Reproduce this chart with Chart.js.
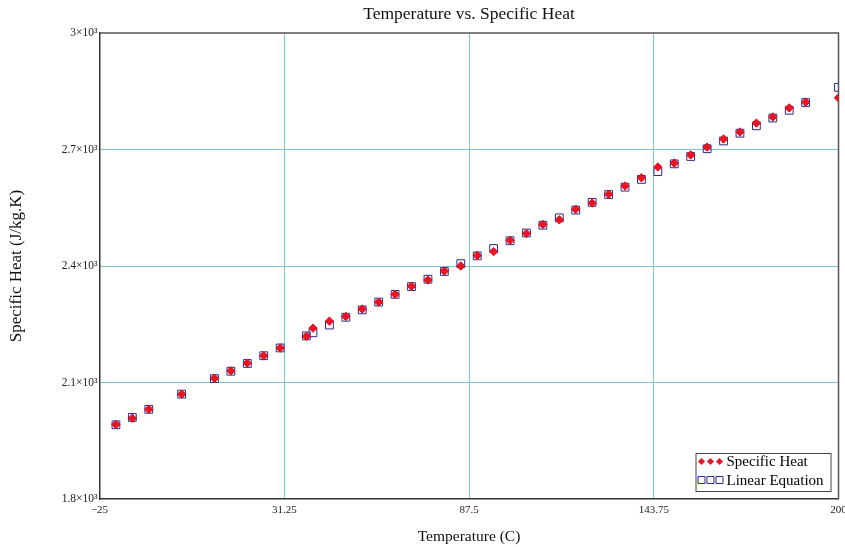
<!DOCTYPE html>
<html>
<head>
<meta charset="utf-8">
<script src="https://cdn.jsdelivr.net/npm/chart.js@4.4.1/dist/chart.umd.min.js"></script>
<style>
  body { margin: 0; background: #fff; overflow: hidden; }
</style>
</head>
<body>
<canvas id="myChart" width="845" height="547"></canvas>
<script>
// temperature (C)
const temperatures = [-20, -15, -10, 0, 10, 15, 20, 25, 30, 38, 40, 45, 50, 55, 60, 65, 70, 75, 80, 85, 90,
  95, 100, 105, 110, 115, 120, 125, 130, 135, 140, 145, 150, 155, 160, 165, 170, 175, 180, 185, 190, 200];
// J/kg.K
const specificHeat = [1992, 2008, 2031, 2070, 2111, 2130, 2150, 2169, 2189, 2219, 2240, 2258, 2270, 2289, 2307,
  2327, 2348, 2364, 2387, 2400, 2427, 2437, 2466, 2484, 2507, 2519, 2546, 2562, 2585, 2606, 2627, 2655, 2665,
  2686, 2706, 2727, 2745, 2768, 2784, 2807, 2822, 2833];
const linearEquation = [1991, 2010, 2031, 2070, 2110, 2129, 2149, 2169, 2189, 2220, 2228, 2248, 2268, 2287, 2307,
  2327, 2347, 2366, 2386, 2406, 2426, 2445, 2465, 2485, 2505, 2524, 2544, 2564, 2584, 2603, 2623, 2643, 2663,
  2682, 2702, 2722, 2742, 2761, 2781, 2801, 2821, 2860];

const xTickValues = [-25, 31.25, 87.5, 143.75, 200];
const xTickLabels = ["\u221225", "31.25", "87.5", "143.75", "200"];
const yTickValues = [1800, 2100, 2400, 2700, 3000];
const yTickLabels = ["1.8\u00d710\u00b3", "2.1\u00d710\u00b3", "2.4\u00d710\u00b3", "2.7\u00d710\u00b3", "3\u00d710\u00b3"];

const serif = "'Liberation Serif', 'Times New Roman', serif";
const gridBlue = "#7cc6d8";

// top and right edges of the plot box
const frame = {
  id: "frame",
  beforeDatasetsDraw(chart) {
    const { ctx, chartArea: a } = chart;
    ctx.save();
    ctx.strokeStyle = "#555";
    ctx.lineWidth = 1.5;
    ctx.beginPath();
    ctx.moveTo(a.left, a.top);
    ctx.lineTo(a.right, a.top);
    ctx.lineTo(a.right, a.bottom);
    ctx.stroke();
    ctx.restore();
  }
};

// boxed legend with three markers per row
const boxLegend = {
  id: "boxLegend",
  afterDatasetsDraw(chart) {
    const { ctx, chartArea: a } = chart;
    const w = 135, h = 38;
    const x = a.right - 8 - w, y = a.bottom - 8 - h;
    ctx.save();
    ctx.fillStyle = "#fff";
    ctx.fillRect(x, y, w, h);
    ctx.strokeStyle = "#444";
    ctx.lineWidth = 1;
    ctx.strokeRect(x + 0.5, y + 0.5, w, h);
    chart.data.datasets.forEach((ds, i) => {
      const cy = y + 8.5 + i * 18.5;
      for (let k = 0; k < 3; k++) {
        const cx = x + 6 + k * 9;
        ctx.beginPath();
        if (ds.pointStyle === "rectRot") {
          ctx.moveTo(cx, cy - 3.5);
          ctx.lineTo(cx + 3.5, cy);
          ctx.lineTo(cx, cy + 3.5);
          ctx.lineTo(cx - 3.5, cy);
          ctx.closePath();
          ctx.fillStyle = ds.backgroundColor;
          ctx.fill();
        } else {
          ctx.rect(cx - 3.5, cy - 3.5, 7, 7);
          ctx.strokeStyle = ds.borderColor;
          ctx.stroke();
        }
      }
      ctx.fillStyle = "#000";
      ctx.font = "15px " + serif;
      ctx.textBaseline = "middle";
      ctx.fillText(ds.label, x + 31, cy + 1);
    });
    ctx.restore();
  }
};

const ctx = document.getElementById("myChart").getContext("2d");
new Chart(ctx, {
  type: "scatter",
  data: {
    datasets: [
      {
        label: "Specific Heat",
        data: temperatures.map((t, i) => ({ x: t, y: specificHeat[i] })),
        pointStyle: "rectRot",
        pointRadius: 4.2,
        backgroundColor: "#ec1422",
        borderColor: "#d4101c",
        borderWidth: 1,
      },
      {
        label: "Linear Equation",
        data: temperatures.map((t, i) => ({ x: t, y: linearEquation[i] })),
        pointStyle: "rect",
        pointRadius: 5.5,
        backgroundColor: "rgba(255,255,255,0)",
        borderColor: "#2b2b88",
        borderWidth: 1,
      },
    ],
  },
  options: {
    responsive: false,
    animation: false,
    layout: { padding: { top: 0, right: 6.5, bottom: 0, left: 0 } },
    plugins: {
      legend: { display: false },
      tooltip: { enabled: false },
      title: {
        display: true,
        text: "Temperature vs. Specific Heat",
        fullSize: false,
        color: "#111",
        font: { family: serif, size: 17.5, weight: "normal" },
        padding: { top: 4, bottom: 8 },
      },
    },
    scales: {
      x: {
        type: "linear",
        min: -25,
        max: 200,
        afterBuildTicks: (s) => { s.ticks = xTickValues.map((v) => ({ value: v })); },
        afterFit: (s) => { s.paddingRight = 0; s.height = 48; },
        ticks: {
          autoSkip: false,
          maxRotation: 0,
          padding: 5,
          color: "#222",
          font: { family: serif, size: 11 },
          callback: (v, i) => xTickLabels[i],
        },
        grid: {
          drawTicks: false,
          color: (c) => (c.index === 0 || c.index === xTickValues.length - 1) ? "rgba(0,0,0,0)" : gridBlue,
        },
        border: { color: "#333", width: 1.5 },
        title: {
          display: true,
          text: "Temperature (C)",
          color: "#111",
          font: { family: serif, size: 15.5 },
          padding: { top: 10, bottom: 1 },
        },
      },
      y: {
        min: 1800,
        max: 3000,
        afterBuildTicks: (s) => { s.ticks = yTickValues.map((v) => ({ value: v })); },
        afterFit: (s) => { s.width = 99.5; },
        ticks: {
          autoSkip: false,
          padding: 2,
          color: "#222",
          font: { family: serif, size: 11.5 },
          callback: (v, i) => yTickLabels[i],
        },
        grid: {
          drawTicks: false,
          color: (c) => (c.index === 0 || c.index === yTickValues.length - 1) ? "rgba(0,0,0,0)" : gridBlue,
        },
        border: { color: "#333", width: 1.5 },
        title: {
          display: true,
          text: "Specific Heat (J/kg.K)",
          color: "#111",
          font: { family: serif, size: 17 },
          padding: { top: 6.8, bottom: 0 },
        },
      },
    },
  },
  plugins: [frame, boxLegend],
});
</script>
</body>
</html>
